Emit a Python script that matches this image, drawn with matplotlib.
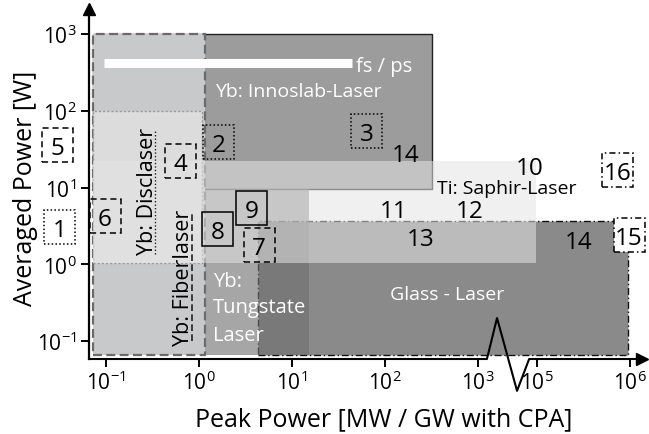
import numpy as np
import matplotlib
matplotlib.use("Agg")
import matplotlib.pyplot as plt
from matplotlib.patches import Rectangle
from matplotlib.ticker import FixedLocator, NullLocator
from matplotlib.transforms import blended_transform_factory

plt.rcParams['font.family'] = ['Open Sans', 'DejaVu Sans']
plt.rcParams['mathtext.default'] = 'regular'

# laser technology regions: peak power [MW] x average power [W]
region_names = ["innoslab", "yb_outer", "disclaser", "glass", "tungstate", "saphir"]
region_x_lo = [0.072, 0.072, 0.072, 4.3, 1.16, 0.072]
region_x_hi = [320, 1.16, 1.08, 9.5e5, 15.2, 9.3e4]
region_y_lo = [9.5, 0.066, 1.04, 0.066, 0.066, 1.04]
region_y_hi = [1000, 1000, 100, 3.67, 9.5, 22.1]

# numbered literature references
ref_labels = ["1", "2", "3", "4", "5", "6", "7", "8", "9",
              "10", "11", "12", "13", "14", "14", "15", "16"]
ref_x = [0.0316, 1.62, 63.2, 0.625, 0.0301, 0.0976, 4.42, 1.58, 3.67,
         5.8e4, 123, 820, 244, 166, 2.79e5, 9.75e5, 7.35e5]
ref_y = [3.10, 39.7, 53.7, 22.1, 36.3, 4.25, 1.78, 2.88, 5.41,
         19.6, 5.41, 5.4, 2.33, 29.4, 2.13, 2.40, 16.9]
ref_frame = ["dotted", "dotted", "dotted", "dashed", "dashed", "dashed", "dashed",
             "solid", "solid", None, None, None, None, None, None, "dashdot", "dashdot"]

x_ticks = [1e-1, 1e0, 1e1, 1e2, 1e3, 1e5, 1e6]
x_ticklabels = [r'$10^{-1}$', r'$10^{0}$', r'$10^{1}$', r'$10^{2}$', r'$10^{3}$', r'$10^{5}$', r'$10^{6}$']
y_ticks = [1e-1, 1e0, 1e1, 1e2, 1e3]
y_ticklabels = [r'$10^{-1}$', r'$10^{0}$', r'$10^{1}$', r'$10^{2}$', r'$10^{3}$']

# pulse duration bar (fs / ps)
fs_bar_x = [0.0952, 44.2]
fs_bar_y = 425

# zig-zag of the broken x axis
break_x = [2.0e3, 4.4e3, 2.1e4, 5.4e4]

GAP = 0.634  # drawing width of the 10^3 .. 10^5 gap, in decades


def fwd(x):
    with np.errstate(divide='ignore', invalid='ignore'):
        l = np.log10(np.asarray(x, dtype=float))
    return np.where(l <= 3, l, np.where(l >= 5, l - 2 + GAP, 3 + (l - 3) * GAP / 2))


def inv(p):
    p = np.asarray(p, dtype=float)
    l = np.where(p <= 3, p, np.where(p >= 3 + GAP, p + 2 - GAP, 3 + (p - 3) * 2 / GAP))
    return 10 ** l


fig = plt.figure(figsize=(6.49, 4.35), dpi=100)
ax = fig.add_axes([89 / 649, 75 / 435, 553 / 649, 350 / 435])
ax.set_xscale('function', functions=(fwd, inv))
ax.set_yscale('log')
ax.set_xlim(0.0656, 1.345e6)
ax.set_ylim(0.0583, 2117)

styles = {
    "innoslab": dict(facecolor='#9c9c9c', edgecolor='#222222', lw=1.0, ls='-', zorder=1),
    "yb_outer": dict(facecolor='#c8c9cb', edgecolor='#6a6a6a', lw=1.6, ls=(0, (4, 2)), zorder=2),
    "disclaser": dict(facecolor='#dcdcdc', edgecolor='#9a9a9a', lw=1.0, ls=(0, (1.5, 1.5)), zorder=3),
    "glass": dict(facecolor='#8a8a8a', edgecolor='#111111', lw=1.0, ls=(0, (5, 2, 1, 2)), zorder=2),
    "tungstate": dict(facecolor='#707070', edgecolor='none', lw=0, alpha=0.62, zorder=4),
    "saphir": dict(facecolor='#e4e4e4', edgecolor='none', lw=0, alpha=0.55, zorder=5),
}
for name, x0, x1, y0, y1 in zip(region_names, region_x_lo, region_x_hi, region_y_lo, region_y_hi):
    ax.add_patch(Rectangle((x0, y0), x1 - x0, y1 - y0, **styles[name]))

# fs / ps bar
ax.plot(fs_bar_x, [fs_bar_y, fs_bar_y], color='white', lw=6.5, solid_capstyle='butt', zorder=6)
ax.text(48.7, 330, 'fs / ps', color='white', fontsize=14.5, ha='left', va='baseline', zorder=7)

ax.text(1.49, 155, 'Yb: Innoslab-Laser', color='white', fontsize=14, ha='left', va='baseline', zorder=7)
ax.text(362, 8.47, 'Ti: Saphir-Laser', color='black', fontsize=14, ha='left', va='baseline', zorder=7)
ax.text(464, 0.352, 'Glass - Laser', color='white', fontsize=14, ha='center', va='baseline', zorder=7)
for txt, yy in zip(['Yb:', 'Tungstate', 'Laser'], [0.521, 0.239, 0.103]):
    ax.text(1.41, yy, txt, color='white', fontsize=14.5, ha='left', va='baseline', zorder=7)
ax.text(0.276, 9.27, 'Yb: Disclaser', rotation=90, fontsize=15.5, ha='center', va='center', zorder=7)
ax.text(0.673, 0.692, 'Yb: Fiberlaser', rotation=90, fontsize=15.5, ha='center', va='center', zorder=7)
ax.plot([0.336, 0.336], [1.36, 57.8], color='#222222', lw=1.0, ls=(0, (1, 1.5)), zorder=6)
ax.plot([0.841, 0.841], [0.1, 4.52], color='#222222', lw=1.2, ls=(0, (4, 2)), zorder=6)

# reference numbers with their frames
frame_ls = {"dotted": (0, (1, 1.5)), "dashed": (0, (4, 2.5)),
            "dashdot": (0, (4, 2, 1, 2)), "solid": '-'}
hw = 10 ** (15.5 / 93)      # half box width, factor in peak power
hh = 10 ** (17 / 76.75)     # half box height, factor in average power
for lab, xx, yy, fr in zip(ref_labels, ref_x, ref_y, ref_frame):
    ax.text(xx, yy, lab, fontsize=17.5, ha='center', va='center_baseline', zorder=9,
            clip_on=False)
    if fr is not None:
        fc = 'white' if lab == "15" else 'none'
        ax.add_patch(Rectangle((xx / hw, yy / hh), xx * hw - xx / hw, yy * hh - yy / hh,
                               facecolor=fc, edgecolor='black', lw=1.1, ls=frame_ls[fr],
                               zorder=8, clip_on=False))

# axes
for s in ['top', 'right', 'bottom']:
    ax.spines[s].set_visible(False)
ax.spines['left'].set_linewidth(1.6)
trans = blended_transform_factory(ax.transData, ax.transAxes)
ax.plot([0.0656, break_x[0], break_x[1], break_x[2], break_x[3], 1.345e6],
        [0, 0, 0.117, -0.091, 0, 0], transform=trans, color='black', lw=1.5,
        clip_on=False, zorder=10)
ax.plot([1], [0], marker='>', color='black', markersize=9, transform=ax.transAxes,
        clip_on=False, zorder=10)
ax.plot([0], [1], marker='^', color='black', markersize=9, transform=ax.transAxes,
        clip_on=False, zorder=10)

ax.xaxis.set_major_locator(FixedLocator(x_ticks))
ax.xaxis.set_minor_locator(NullLocator())
ax.set_xticklabels(x_ticklabels)
ax.yaxis.set_major_locator(FixedLocator(y_ticks))
ax.yaxis.set_minor_locator(NullLocator())
ax.set_yticklabels(y_ticklabels)
ax.tick_params(axis='both', which='major', direction='out', length=6, width=1.4,
               labelsize=15)
ax.tick_params(axis='x', pad=2)
ax.tick_params(axis='y', pad=3)

ax.set_xlabel('Peak Power [MW / GW with CPA]', fontsize=18)
ax.set_ylabel('Averaged Power [W]', fontsize=18)
ax.xaxis.set_label_coords(0.532, -0.134)
ax.yaxis.set_label_coords(-0.092, 0.489)

fig.savefig('out.png', dpi=100)
